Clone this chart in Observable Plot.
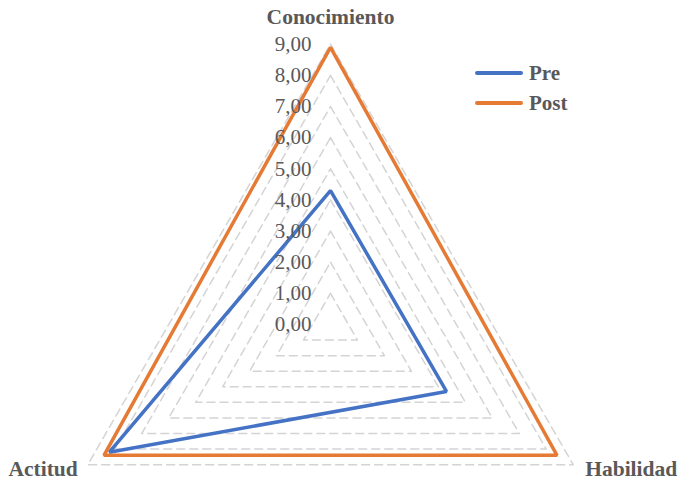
<!DOCTYPE html>
<html>
<head>
<meta charset="utf-8">
<script src="https://cdn.jsdelivr.net/npm/d3@7"></script>
<script src="https://cdn.jsdelivr.net/npm/@observablehq/plot@0.6"></script>
<style>
  html, body { margin: 0; padding: 0; background: #fff; }
  #wrap { position: relative; width: 693px; height: 498px; font-family: "Liberation Serif", "Times New Roman", serif; }
  #legend { position: absolute; left: 475px; top: 58px; color: #595959; font-weight: bold; font-size: 21px; }
  #legend .item { display: flex; align-items: center; height: 30px; }
  #legend .sw { width: 48px; height: 3.5px; margin-right: 6px; border-radius: 2px; }
</style>
</head>
<body>
<div id="wrap"><div id="legend"></div></div>
<script>
const axesNames = ["Conocimiento", "Habilidad", "Actitud"];
const preValues = [4.3, 4.3, 8.2];
const postValues = [8.9, 8.4, 8.4];
const seriesNames = ["Pre", "Post"];
const seriesColors = ["#4472C4", "#E57A35"];
const levels = [1, 2, 3, 4, 5, 6, 7, 8, 9];
const tickValues = [0, 1, 2, 3, 4, 5, 6, 7, 8, 9];
const tickLabels = ["0,00", "1,00", "2,00", "3,00", "4,00", "5,00", "6,00", "7,00", "8,00", "9,00"];

const W = 693, H = 498;
const unit = 31.14, cx = 330, cy = 324;
const ang = i => i * 2 * Math.PI / axesNames.length;
const px = (i, r) => r * Math.sin(ang(i));
const py = (i, r) => r * Math.cos(ang(i));

const grid = [];
for (const L of levels) {
  for (let i = 0; i <= axesNames.length; i++) {
    const k = i % axesNames.length;
    grid.push({level: L, x: px(k, L), y: py(k, L)});
  }
}
const seriesData = [];
[preValues, postValues].forEach((vals, s) => {
  vals.forEach((v, i) => seriesData.push({series: seriesNames[s], x: px(i, v), y: py(i, v), order: i}));
});
const ticks = tickValues.map((v, i) => ({x: 0, y: v, label: tickLabels[i]}));
const outer = 9;
const axisLabels = axesNames.map((n, i) => ({name: n, x: px(i, outer), y: py(i, outer), i}));

const chart = Plot.plot({
  width: W, height: H,
  marginTop: 0, marginBottom: 0, marginLeft: 0, marginRight: 0,
  x: {domain: [-cx / unit, (W - cx) / unit], axis: null},
  y: {domain: [-(H - cy) / unit, cy / unit], axis: null},
  color: {domain: seriesNames, range: seriesColors},
  style: {fontFamily: "'Liberation Serif', 'Times New Roman', serif", background: "transparent"},
  marks: [
    Plot.line(grid, {x: "x", y: "y", z: "level", stroke: "#d4d4d4", strokeWidth: 1.5, strokeDasharray: "8,5"}),
    Plot.line(seriesData, {x: "x", y: "y", z: "series", stroke: "series", strokeWidth: 3.5, curve: "linear-closed", strokeLinejoin: "miter"}),
    Plot.text(ticks, {x: "x", y: "y", text: "label", textAnchor: "end", dx: -19, fontSize: 21, fill: "#595959"}),
    Plot.text(axisLabels.filter(d => d.i === 0), {x: "x", y: "y", text: "name", dy: -27, fontSize: 21.5, fontWeight: "bold", fill: "#595959"}),
    Plot.text(axisLabels.filter(d => d.i === 1), {x: "x", y: "y", text: "name", textAnchor: "start", dx: 12, dy: 4, fontSize: 21.5, fontWeight: "bold", fill: "#595959"}),
    Plot.text(axisLabels.filter(d => d.i === 2), {x: "x", y: "y", text: "name", textAnchor: "end", dx: -10, dy: 4, fontSize: 21.5, fontWeight: "bold", fill: "#595959"})
  ]
});
document.getElementById("wrap").prepend(chart);

const legend = document.getElementById("legend");
seriesNames.forEach((n, i) => {
  const it = document.createElement("div");
  it.className = "item";
  const sw = document.createElement("div");
  sw.className = "sw";
  sw.style.background = seriesColors[i];
  const t = document.createElement("span");
  t.textContent = n;
  it.appendChild(sw); it.appendChild(t);
  legend.appendChild(it);
});
</script>
</body>
</html>
